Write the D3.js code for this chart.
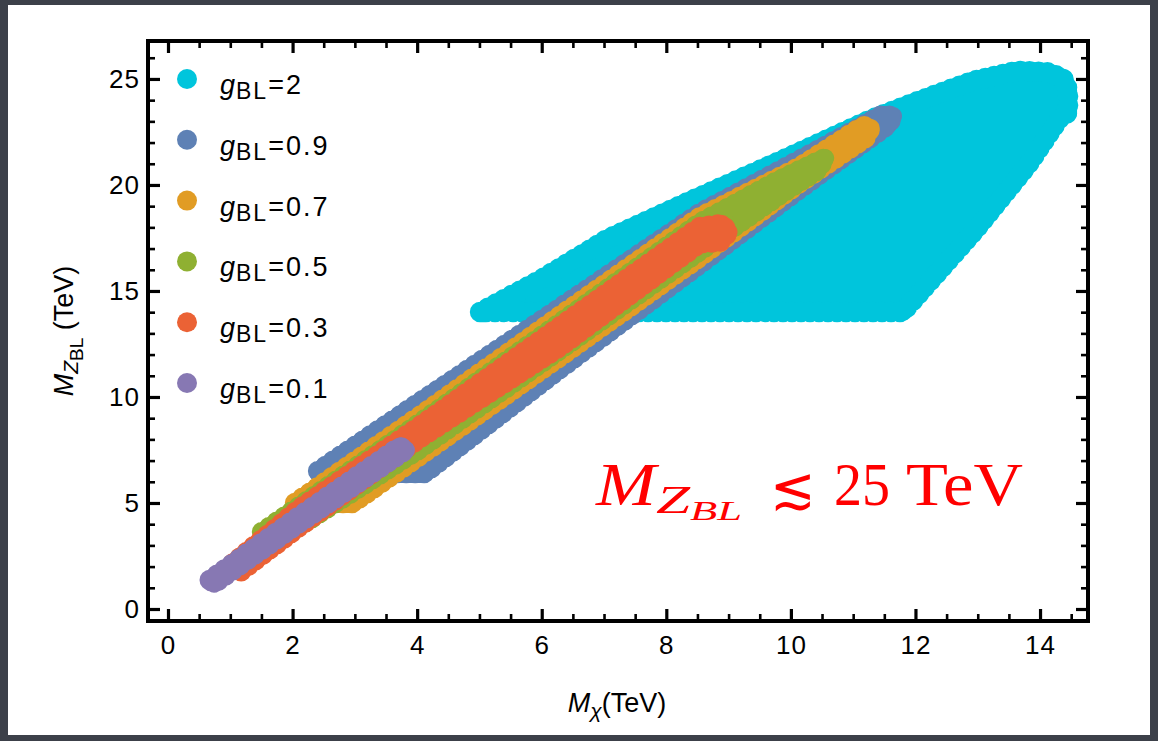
<!DOCTYPE html>
<html><head><meta charset="utf-8">
<script src="https://cdn.jsdelivr.net/npm/d3@7"></script>
<style>
body{margin:0;background:#3c4049;}
svg{display:block;}
</style>
</head><body>
<svg id="c" width="1158" height="741"></svg>
<script>
// ---- data (TeV) ----
const couplings = ["2","0.9","0.7","0.5","0.3","0.1"];
const colors = ["#00C5DC","#5E81B5","#E19C24","#8FB032","#EB6235","#8778B3"];
// allowed regions (hull of scatter-point centres), M_chi vs M_ZBL
const regionG2 = [[5.01,14.01],[5.97,15.52],[7.05,17.45],[8.27,19.10],[9.82,21.13],[11.22,23.02],[11.96,23.87],[12.92,24.91],[13.63,25.38],[14.11,25.33],[14.37,25.05],[14.45,24.48],[14.45,23.40],[14.32,23.16],[13.82,20.99],[12.95,17.83],[11.80,14.01]];
const regionG09 = [[2.41,6.51],[4.04,9.76],[6.29,14.20],[8.54,18.68],[10.14,21.18],[11.46,23.30],[11.64,23.25],[11.56,22.83],[10.14,19.81],[8.54,16.27],[6.29,11.32],[4.13,6.42],[2.41,6.42]];
const regionG07 = [[2.04,5.0],[4.04,9.10],[6.29,13.82],[8.54,18.49],[10.14,20.85],[11.16,22.78],[11.28,22.69],[11.20,22.22],[10.14,20.09],[8.54,16.60],[6.29,11.89],[4.04,7.22],[2.97,5.0]];
const regionG05 = [[1.51,3.63],[4.04,8.77],[6.29,13.49],[8.54,18.21],[9.82,20.24],[10.55,21.27],[10.43,20.71],[9.82,19.53],[8.54,16.89],[6.29,12.22],[4.04,7.55],[1.96,3.63]];
const regionG03 = [[1.04,2.15],[2.12,4.75],[4.04,8.62],[6.29,13.32],[8.54,18.02],[8.89,18.16],[9.00,17.78],[8.86,17.31],[8.54,17.26],[6.29,12.36],[4.04,8.05],[2.12,3.90],[1.16,1.75]];
const regionG01 = [[0.67,1.37],[2.12,4.40],[3.72,7.66],[3.82,7.50],[2.12,4.08],[0.74,1.20]];
const regions = [regionG2, regionG09, regionG07, regionG05, regionG03, regionG01];

const xTicks = [0,2,4,6,8,10,12,14];
const xMinor = d3.range(0.5,14.6,0.5).filter(v=>v%2!==0);
const yTicks = [0,5,10,15,20,25];
const yMinor = d3.range(1,27,1).filter(v=>v%5!==0);
const xDomain = [-0.321,14.77];
const yDomain = [-0.566,26.79];

// ---- layout ----
const svg = d3.select("#c");
const L=148, R=1088, T=41, B=621;
svg.append("rect").attr("x",8).attr("y",5).attr("width",1142).attr("height",730).attr("fill","#fff");

const x = d3.scaleLinear().domain(xDomain).range([L,R]);
const y = d3.scaleLinear().domain(yDomain).range([B,T]);

svg.append("clipPath").attr("id","pc").append("rect")
  .attr("x",L).attr("y",T).attr("width",R-L).attr("height",B-T);

const line = d3.line().x(d=>x(d[0])).y(d=>y(d[1])).curve(d3.curveLinearClosed);
const g = svg.append("g").attr("clip-path","url(#pc)");
regions.forEach((r,i)=>{
  const d = line(r);
  g.append("path").attr("d",d)
   .attr("fill",colors[i]).attr("stroke",colors[i])
   .attr("stroke-width",18).attr("stroke-linejoin","round");
  // dotted rim: mimics the scalloped edge of the overlapping markers
  g.append("path").attr("d",d)
   .attr("fill","none").attr("stroke",colors[i])
   .attr("stroke-width",20.5).attr("stroke-linecap","round")
   .attr("stroke-dasharray","0 9");
});

// ---- axes ----
const font = "'Liberation Sans', Arial, sans-serif";
function styleAxis(sel, w){
  sel.select(".domain").remove();
  sel.selectAll(".tick line").attr("stroke","#000").attr("stroke-width",w);
  sel.selectAll("text").attr("font-family",font).attr("font-size",26).attr("fill","#000").attr("letter-spacing","1px");
}
const ax = [
  [d3.axisBottom(x).tickValues(xTicks).tickSize(-12).tickPadding(15), `translate(0,${B})`, 3.2],
  [d3.axisBottom(x).tickValues(xMinor).tickSize(-7).tickFormat(""), `translate(0,${B})`, 2.6],
  [d3.axisTop(x).tickValues(xTicks).tickSize(-12).tickFormat(""), `translate(0,${T})`, 3.2],
  [d3.axisTop(x).tickValues(xMinor).tickSize(-7).tickFormat(""), `translate(0,${T})`, 2.6],
  [d3.axisLeft(y).tickValues(yTicks).tickSize(-12).tickPadding(8), `translate(${L},0)`, 3.2],
  [d3.axisLeft(y).tickValues(yMinor).tickSize(-7).tickFormat(""), `translate(${L},0)`, 2.6],
  [d3.axisRight(y).tickValues(yTicks).tickSize(-12).tickFormat(""), `translate(${R},0)`, 3.2],
  [d3.axisRight(y).tickValues(yMinor).tickSize(-7).tickFormat(""), `translate(${R},0)`, 2.6]
];
ax.forEach(([a,t,w])=>{ const s=svg.append("g").attr("transform",t).call(a); styleAxis(s,w); });

svg.append("rect").attr("x",L).attr("y",T).attr("width",R-L).attr("height",B-T)
  .attr("fill","none").attr("stroke","#000").attr("stroke-width",4);

// ---- axis titles ----
const xt = svg.append("text").attr("x",617).attr("y",712).attr("text-anchor","middle")
  .attr("font-family",font).attr("font-size",27).attr("fill","#000");
xt.append("tspan").attr("font-style","italic").text("M");
xt.append("tspan").attr("font-style","italic").attr("font-size",21).attr("dy",6).text("χ");
xt.append("tspan").attr("dy",-6).text("(TeV)");

const yt = svg.append("text").attr("transform","translate(73,331) rotate(-90)").attr("text-anchor","middle")
  .attr("font-family",font).attr("font-size",27).attr("fill","#000");
yt.append("tspan").attr("font-style","italic").text("M");
yt.append("tspan").attr("font-style","italic").attr("font-size",21).attr("dy",5).text("Z");
yt.append("tspan").attr("font-size",19).attr("dy",5).text("BL");
yt.append("tspan").attr("dy",-10).text(" (TeV)");

// ---- legend ----
couplings.forEach((c,i)=>{
  const cy = 79 + i*60.8;
  svg.append("circle").attr("cx",187).attr("cy",cy).attr("r",10).attr("fill",colors[i]);
  const t = svg.append("text").attr("x",220).attr("y",cy+15)
    .attr("font-family",font).attr("font-size",27).attr("fill","#000");
  t.append("tspan").attr("font-style","italic").attr("letter-spacing","1px").text("g");
  t.append("tspan").attr("font-size",23).attr("dy",5).attr("letter-spacing","2px").text("BL");
  t.append("tspan").attr("dy",-5).attr("letter-spacing","2px").text("="+c);
});

// ---- annotation ----
const serif = "'Liberation Serif','DejaVu Serif',serif";
function part(txt,px,py,size,len,italic,fam){
  const t = svg.append("text").attr("x",px).attr("y",py).attr("font-size",size)
    .attr("font-family",fam||serif).attr("fill","#f00").text(txt);
  if(italic) t.attr("font-style","italic");
  if(len) t.attr("textLength",len).attr("lengthAdjust","spacingAndGlyphs");
}
part("M",596,505,62,60,true);
part("Z",656,513,40,34,true);
part("BL",690,520,28,52,true);
part("≲",770,508,58,46,false,"'DejaVu Serif',serif");
part("25",834,505,62,56,false);
part("TeV",906,505,62,117,false);
</script>
</body></html>
